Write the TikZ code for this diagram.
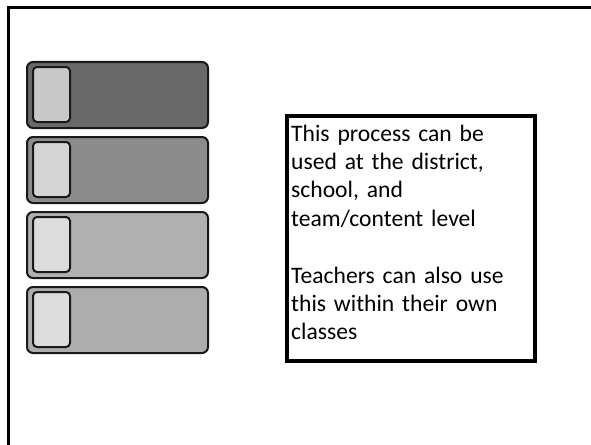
\documentclass[tikz,border=0pt]{standalone}
\usepackage{fontspec}
\setmainfont{Carlito}
\definecolor{barA}{RGB}{105,105,105}
\definecolor{barB}{RGB}{140,140,140}
\definecolor{barC}{RGB}{176,176,176}
\definecolor{barD}{RGB}{173,173,173}
\definecolor{tabA}{RGB}{200,200,200}
\definecolor{tabB}{RGB}{212,212,212}
\definecolor{tabC}{RGB}{220,220,220}
\definecolor{edge}{RGB}{25,25,25}
\tikzset{
  barbox/.style={draw=edge, line width=2pt, rounded corners=6pt, minimum width=181pt, minimum height=66pt, inner sep=0pt},
  tabbox/.style={draw=edge, line width=2pt, rounded corners=4pt, minimum width=37pt, minimum height=55pt, inner sep=0pt},
  notebox/.style={draw=black, line width=4pt, minimum width=248pt, minimum height=245pt, inner sep=0pt},
  notetext/.style={inner sep=0pt, text width=240pt, align=left, font=\fontsize{23.6}{28.4}\selectfont, anchor=base west}
}
\begin{document}
\begin{tikzpicture}[x=1pt,y=1pt]
\useasboundingbox (0,0) rectangle (591,-444);
\fill[white] (0,0) rectangle (591,-444);
% outer frame
\coordinate (fb) at (8,-460);
\coordinate (fc) at (8,-8);
\coordinate (fr) at (610,-8);
\draw[line width=3pt] (fb) -- (fc) -- (fr);
% bars
\node[barbox, fill=barA] (b1) at (117.5,-95) {};
\node[barbox, fill=barB] (b2) at (117.5,-170) {};
\node[barbox, fill=barC] (b3) at (117.5,-245) {};
\node[barbox, fill=barD] (b4) at (117.5,-320) {};
\node[tabbox, fill=tabA] (t1) at (51.5,-94.5) {};
\node[tabbox, fill=tabB] (t2) at (51.5,-169.5) {};
\node[tabbox, fill=tabC] (t3) at (51.5,-244.5) {};
\node[tabbox, fill=tabC] (t4) at (51.5,-319.5) {};
% note
\node[notebox] (box) at (411,-238) {};
\node[notetext] (txt) at (291,-141) {This process can be\\used at the district,\\school, and\\team/content level\\[28.4pt]Teachers can also use\\this within their own\\classes};
\end{tikzpicture}
\end{document}
